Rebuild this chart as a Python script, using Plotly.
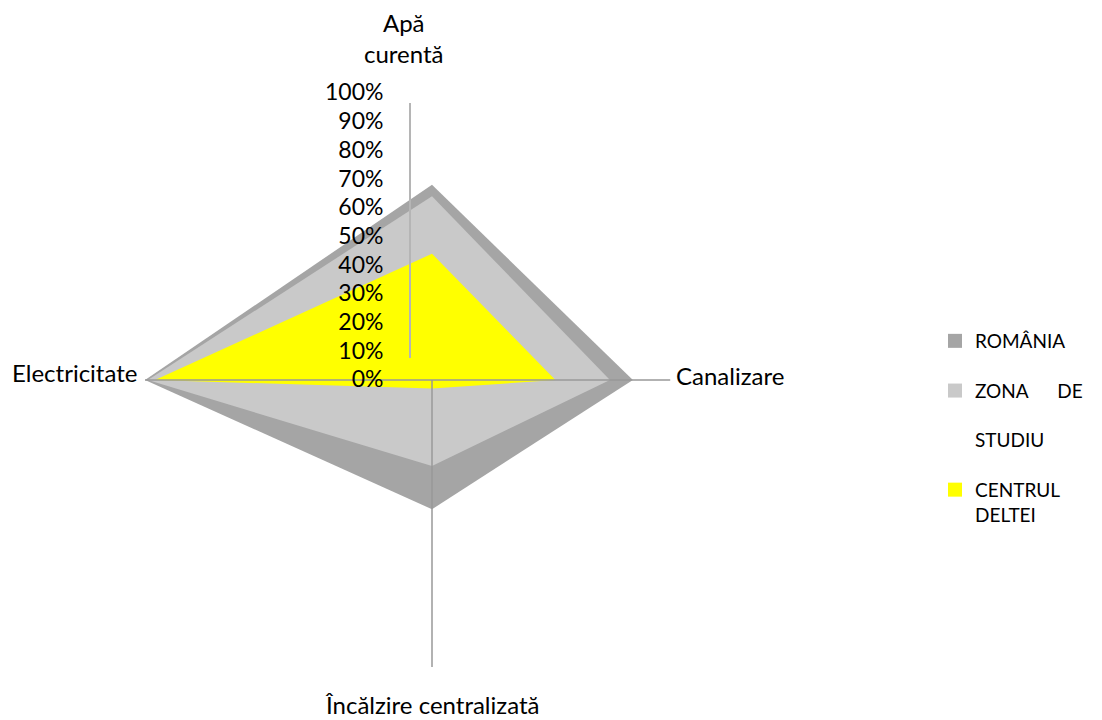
import plotly.graph_objects as go

# Date
categorii = ["Apă curentă", "Canalizare", "Încălzire centralizată", "Electricitate"]
romania = [0.68, 0.70, 0.45, 1.00]
zona_studiu = [0.64, 0.62, 0.30, 0.99]
centrul_deltei = [0.44, 0.43, 0.03, 0.965]
serii = ["ROMÂNIA", "ZONA" + "\u00a0" * 6 + "DE<br><br>STUDIU", "CENTRUL<br>DELTEI"]
culori = ["#A5A5A5", "#C9C9C9", "#FFFF00"]
ticks_r = [i / 10 for i in range(11)]

FONT = "Lato, 'Open Sans', sans-serif"
# pagina are o margine de 8px in jurul graficului
OFF = 8
W, H = 1102 - OFF, 720 - OFF
CX, CY, R = 432, 380, 287


def px_x(x):
    return (x - OFF) / W


def px_y(y):
    return (H - (y - OFF)) / H


fig = go.Figure()

for nume, valori, cul in zip(serii, [romania, zona_studiu, centrul_deltei], culori):
    fig.add_trace(go.Scatterpolar(
        r=valori + valori[:1],
        theta=categorii + categorii[:1],
        fill="toself",
        fillcolor=cul,
        mode="lines",
        line=dict(width=0, color=cul),
        showlegend=False,
        hoverinfo="skip",
    ))

# intrari de legenda (patrate)
for nume, cul in zip(serii, culori):
    fig.add_trace(go.Scatterpolar(
        r=[None], theta=[categorii[0]],
        mode="markers",
        marker=dict(symbol="square", size=14, color=cul),
        name=nume,
        legendgroup=nume,
    ))

# axele categoriilor (spite)
spite = {"Electricitate": 1.0, "Canalizare": 0.83, "Încălzire centralizată": 1.0}
for cat, lung in spite.items():
    fig.add_trace(go.Scatterpolar(
        r=[0, lung], theta=[cat, cat],
        mode="lines",
        line=dict(color="#999999", width=1.5),
        showlegend=False,
        hoverinfo="skip",
    ))

fig.update_layout(
    width=W, height=H,
    margin=dict(l=0, r=0, t=0, b=0),
    paper_bgcolor="white",
    font=dict(family=FONT, size=21, color="black"),
    polar=dict(
        domain=dict(x=[px_x(CX - R), px_x(CX + R)], y=[px_y(CY + R), px_y(CY - R)]),
        bgcolor="white",
        radialaxis=dict(
            range=[0, 1],
            angle=90,
            side="counterclockwise",
            tickangle=90,
            tickvals=ticks_r,
            tickformat=".0%",
            showgrid=False,
            showline=False,
            ticks="outside",
            ticklen=40,
            tickcolor="rgba(0,0,0,0)",
            tickfont=dict(size=23),
        ),
        angularaxis=dict(
            categoryarray=categorii,
            categoryorder="array",
            rotation=90,
            direction="clockwise",
            showticklabels=False,
            showgrid=False,
            showline=False,
            ticks="",
        ),
    ),
    legend=dict(
        x=px_x(935), y=px_y(322), xanchor="left", yanchor="top",
        font=dict(size=19),
        valign="top",
        tracegroupgap=22,
        itemsizing="trace",
    ),
    shapes=[dict(
        type="line", xref="paper", yref="paper",
        x0=px_x(410), x1=px_x(410), y0=px_y(103), y1=px_y(358),
        line=dict(color="#B5B5B5", width=2),
    )],
    annotations=[
        dict(text="Apă<br>curentă", x=px_x(404), y=px_y(38), xref="paper", yref="paper",
             xanchor="center", yanchor="middle", showarrow=False, font=dict(size=24)),
        dict(text="Canalizare", x=px_x(674), y=px_y(376), xref="paper", yref="paper",
             xanchor="left", yanchor="middle", showarrow=False, font=dict(size=24)),
        dict(text="Electricitate", x=px_x(139), y=px_y(373), xref="paper", yref="paper",
             xanchor="right", yanchor="middle", showarrow=False, font=dict(size=24)),
        dict(text="Încălzire centralizată", x=px_x(432), y=px_y(704), xref="paper", yref="paper",
             xanchor="center", yanchor="middle", showarrow=False, font=dict(size=24)),
    ],
)

fig.write_html("out.html")
